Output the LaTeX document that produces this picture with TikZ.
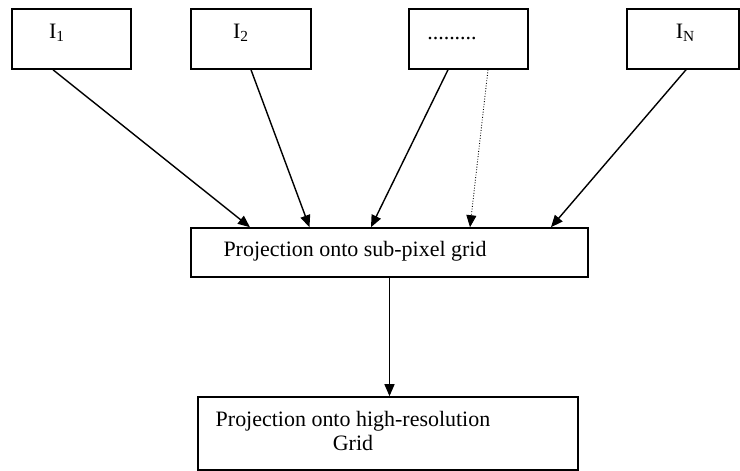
\documentclass[tikz,border=0pt]{standalone}
\usepackage{fontspec}
\setmainfont{Liberation Serif}
\usetikzlibrary{arrows.meta}
\begin{document}
\begin{tikzpicture}[>={Triangle[length=0.24cm,width=0.2cm]}, font=\fontsize{12.5}{13.3}\selectfont,
  img node/.style={draw,line width=0.9pt,minimum width=2.38cm,minimum height=1.2cm,inner sep=0pt},
  step node/.style={draw,line width=0.9pt,inner sep=0pt},
  txt/.style={align=center,inner sep=0pt},
  link/.style={->,line width=0.8pt}]
\useasboundingbox (0,0) rectangle (14.8,-9.42);
% input images
\node [img node,label={[txt,xshift=-0.29cm,yshift=0.12cm]center:I\textsubscript{1}}](i1) at (1.43,-0.78) {};
\node [img node,minimum width=2.4cm,label={[txt,xshift=-0.2cm,yshift=0.12cm]center:I\textsubscript{2}}](i2) at (5.02,-0.78) {};
\node [img node,label={[txt,xshift=-0.33cm]center:.........}](idots) at (9.37,-0.78) {};
\node [img node,minimum width=2.24cm,label={[txt,xshift=0.05cm,yshift=0.12cm]center:I\textsubscript{N}}](iN) at (13.66,-0.78) {};
% processing steps
\node [step node,minimum width=7.94cm,minimum height=0.98cm,
  label={[txt,xshift=-0.69cm,yshift=0.03cm]center:Projection onto sub-pixel grid}](proj) at (7.79,-5.05) {};
\node [step node,minimum width=7.6cm,minimum height=1.46cm,
  label={[txt,xshift=-0.7cm,yshift=0.05cm]center:Projection onto high-resolution\\Grid}](hires) at (7.76,-8.67) {};
\path [link]
	([xshift=-0.37cm]i1.south) edge ([xshift=-2.79cm]proj.north)
	(i2.south) edge ([xshift=-1.6cm]proj.north)
	([xshift=-0.41cm]idots.south) edge ([xshift=-0.37cm]proj.north)
	([xshift=0.06cm]iN.south) edge ([xshift=3.23cm]proj.north)
	(proj.south) edge (proj.south |- hires.north)
	;
\draw [link,line width=0.5pt,densely dotted] ([xshift=0.39cm]idots.south) -- ([xshift=1.61cm]proj.north);
\end{tikzpicture}
\end{document}
